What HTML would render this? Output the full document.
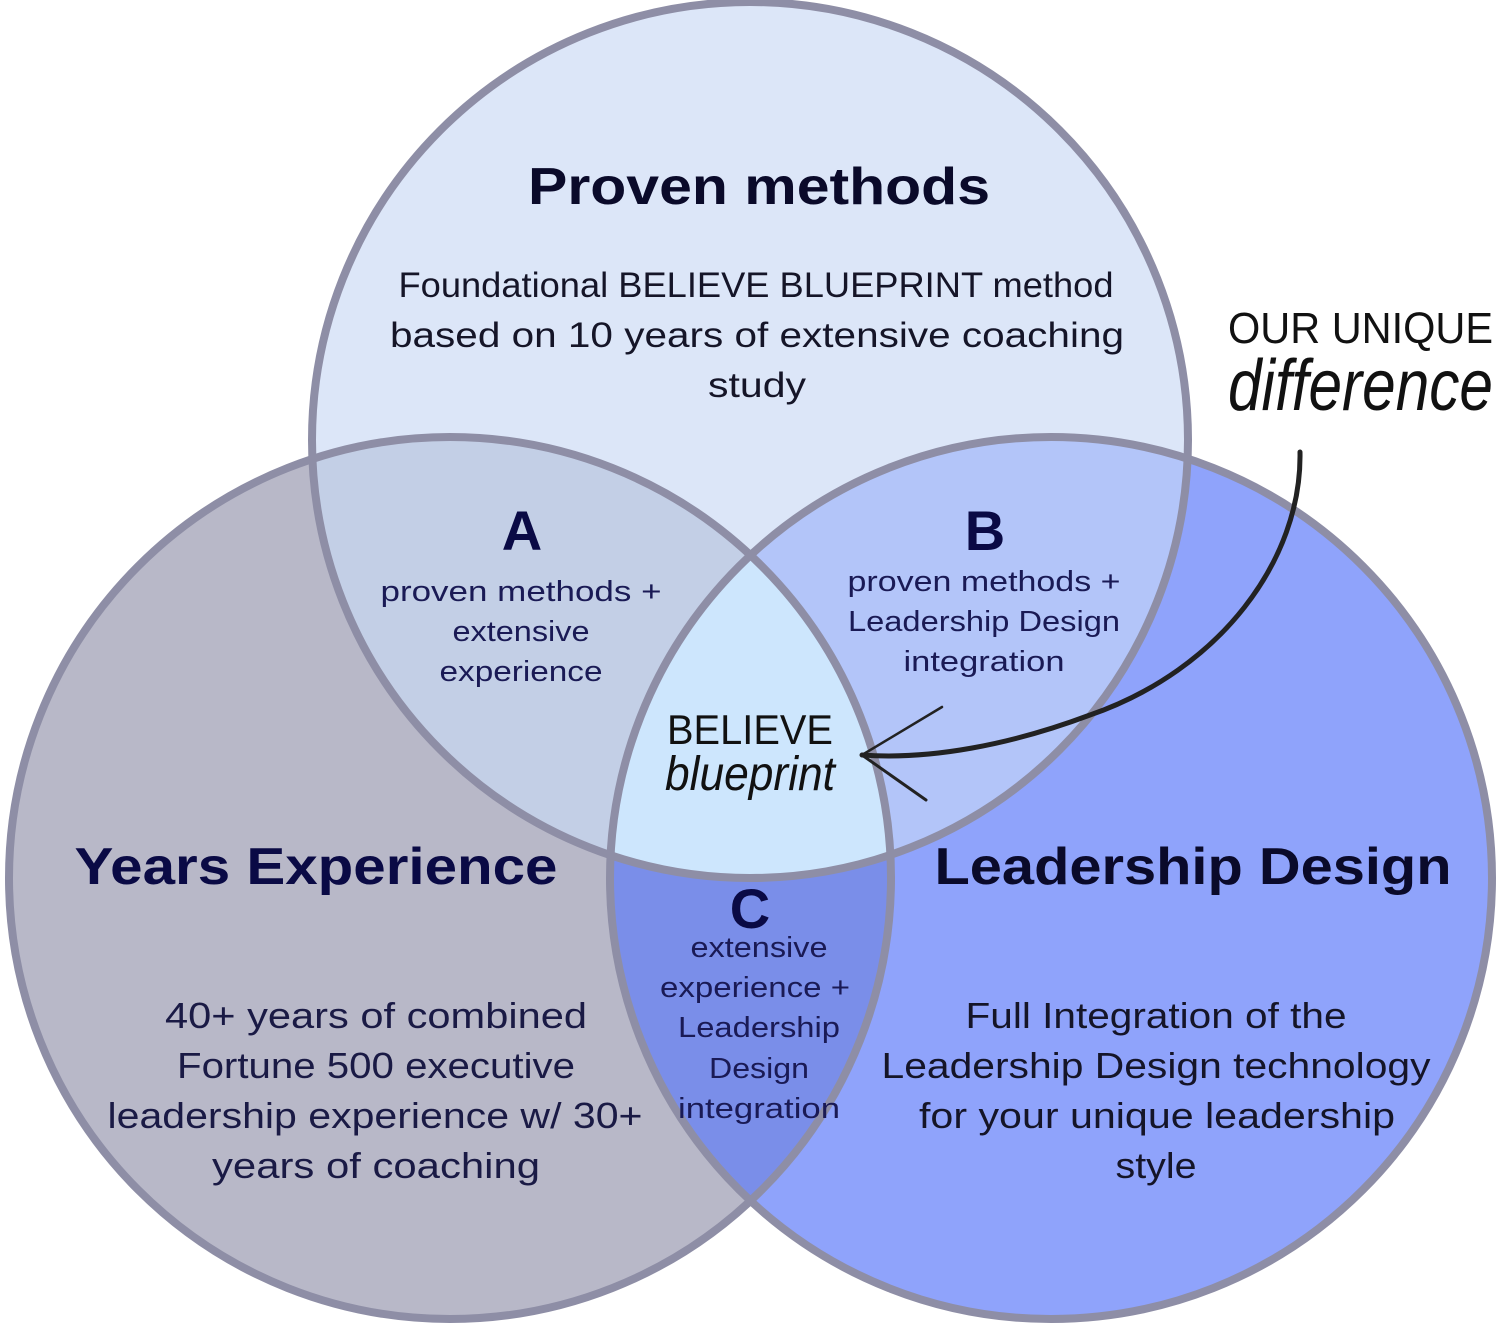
<!DOCTYPE html>
<html><head><meta charset="utf-8"><style>
html,body{margin:0;padding:0;background:#fff}
svg{display:block}
text{font-family:"Liberation Sans",sans-serif}
</style></head><body>
<svg width="1500" height="1325" viewBox="0 0 1500 1325" xmlns="http://www.w3.org/2000/svg">
<defs>
<clipPath id="cT"><circle cx="750" cy="440" r="438"/></clipPath>
<clipPath id="cL"><circle cx="450" cy="878" r="441"/></clipPath>
<clipPath id="cR"><circle cx="1051" cy="878" r="441"/></clipPath>
</defs>
<circle cx="750" cy="440" r="438" fill="#dce6f8"/>
<circle cx="450" cy="878" r="441" fill="#b8b8c8"/>
<circle cx="1051" cy="878" r="441" fill="#8fa3fb"/>
<circle cx="450" cy="878" r="441" fill="#c3cfe6" clip-path="url(#cT)"/>
<circle cx="1051" cy="878" r="441" fill="#b3c5f9" clip-path="url(#cT)"/>
<g clip-path="url(#cL)"><circle cx="1051" cy="878" r="441" fill="#7a8ee9"/></g>
<g clip-path="url(#cT)"><g clip-path="url(#cL)"><circle cx="1051" cy="878" r="441" fill="#cde6fd"/></g></g>
<g fill="none" stroke="#8e8ea6" stroke-width="8">
<circle cx="750" cy="440" r="438"/>
<circle cx="450" cy="878" r="441"/>
<circle cx="1051" cy="878" r="441"/>
</g>
<g text-anchor="middle" lengthAdjust="spacingAndGlyphs">
<text x="759" y="204" font-size="52" font-weight="bold" fill="#0a0a2a" textLength="462" lengthAdjust="spacingAndGlyphs">Proven methods</text>
<g font-size="35" fill="#151528">
<text x="756" y="297" textLength="715" lengthAdjust="spacingAndGlyphs">Foundational BELIEVE BLUEPRINT method</text>
<text x="757" y="347" textLength="734" lengthAdjust="spacingAndGlyphs">based on 10 years of extensive coaching</text>
<text x="757" y="397" textLength="98" lengthAdjust="spacingAndGlyphs">study</text>
</g>
<text x="522" y="550" font-size="56" font-weight="bold" fill="#0a0a45">A</text>
<text x="985" y="550" font-size="56" font-weight="bold" fill="#0a0a45">B</text>
<text x="750" y="928" font-size="56" font-weight="bold" fill="#0a0a45">C</text>
<g font-size="29" fill="#1a1a55">
<text x="521" y="601" textLength="281" lengthAdjust="spacingAndGlyphs">proven methods  +</text>
<text x="521" y="641" textLength="137" lengthAdjust="spacingAndGlyphs">extensive</text>
<text x="521" y="681" textLength="163" lengthAdjust="spacingAndGlyphs">experience</text>
<text x="984" y="591" textLength="273" lengthAdjust="spacingAndGlyphs">proven methods +</text>
<text x="984" y="631" textLength="272" lengthAdjust="spacingAndGlyphs">Leadership Design</text>
<text x="984" y="671" textLength="161" lengthAdjust="spacingAndGlyphs">integration</text>
<text x="759" y="957" textLength="137" lengthAdjust="spacingAndGlyphs">extensive</text>
<text x="755" y="997" textLength="190" lengthAdjust="spacingAndGlyphs">experience +</text>
<text x="759" y="1037" textLength="162" lengthAdjust="spacingAndGlyphs">Leadership</text>
<text x="759" y="1078" textLength="100" lengthAdjust="spacingAndGlyphs">Design</text>
<text x="759" y="1118" textLength="162" lengthAdjust="spacingAndGlyphs">integration</text>
</g>
<text x="316" y="884" font-size="52" font-weight="bold" fill="#0a0a45" textLength="483" lengthAdjust="spacingAndGlyphs">Years Experience</text>
<text x="1193" y="884" font-size="52" font-weight="bold" fill="#0a0a2a" textLength="517" lengthAdjust="spacingAndGlyphs">Leadership Design</text>
<g font-size="36" fill="#1a1a45">
<text x="376" y="1028" textLength="422" lengthAdjust="spacingAndGlyphs">40+ years of combined</text>
<text x="376" y="1078" textLength="398" lengthAdjust="spacingAndGlyphs">Fortune 500 executive</text>
<text x="375" y="1128" textLength="535" lengthAdjust="spacingAndGlyphs">leadership experience w/ 30+</text>
<text x="376" y="1178" textLength="328" lengthAdjust="spacingAndGlyphs">years of coaching</text>
</g>
<g font-size="36" fill="#151528">
<text x="1156" y="1028" textLength="381" lengthAdjust="spacingAndGlyphs">Full Integration of the</text>
<text x="1156" y="1078" textLength="549" lengthAdjust="spacingAndGlyphs">Leadership Design technology</text>
<text x="1157" y="1128" textLength="476" lengthAdjust="spacingAndGlyphs">for your unique leadership</text>
<text x="1156" y="1178" textLength="81" lengthAdjust="spacingAndGlyphs">style</text>
</g>
<text x="750" y="744" font-size="42" fill="#111" textLength="166" lengthAdjust="spacingAndGlyphs">BELIEVE</text>
<text x="750" y="790" font-size="48" font-style="italic" fill="#111" font-family="'Liberation Serif',serif" textLength="170" lengthAdjust="spacingAndGlyphs">blueprint</text>
</g>
<text x="1228" y="343" font-size="44" fill="#111" textLength="265" lengthAdjust="spacingAndGlyphs">OUR UNIQUE</text>
<text x="1228" y="410" font-size="72" font-style="italic" fill="#111" font-family="'Liberation Serif',serif" textLength="265" lengthAdjust="spacingAndGlyphs">difference</text>
<g fill="none" stroke="#222" stroke-width="5" stroke-linecap="round">
<path d="M1300 452 C1302 560 1220 670 1090 715 C1010 745 930 760 862 755"/>
<path d="M862 755 L942 707" stroke-width="2.5"/>
<path d="M862 755 L926 800" stroke-width="3"/>
</g>
</svg>
</body></html>
